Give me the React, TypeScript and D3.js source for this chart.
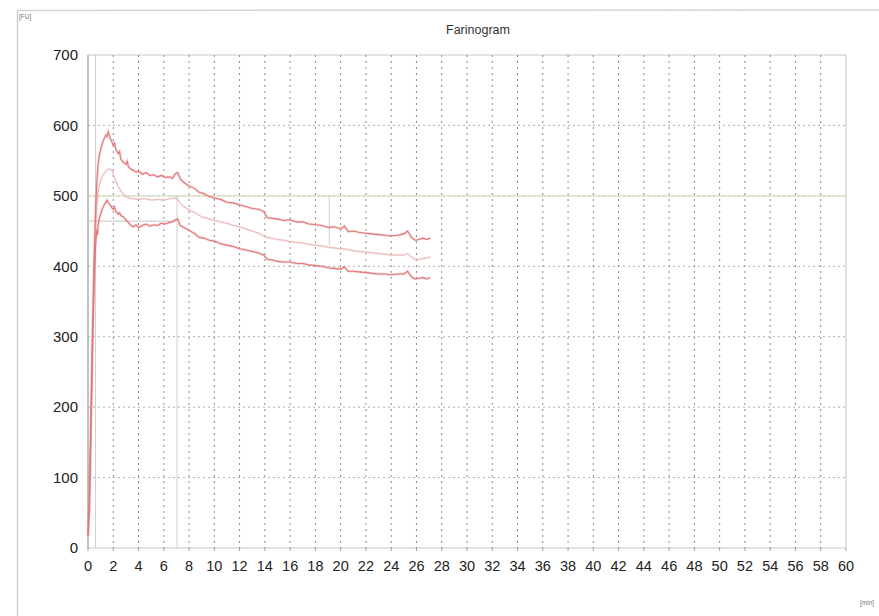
import React, { useEffect, useRef } from 'react'
import * as d3 from 'd3'

// torque readings [minute, FU]
const UPPER: [number, number][] = [
  [0, 18], [0.1, 60], [0.2, 150], [0.3, 250], [0.4, 340], [0.5, 420], [0.6, 480], [0.7, 520],
  [0.8, 545], [0.9, 558], [1.0, 566], [1.1, 572], [1.2, 578], [1.3, 582], [1.4, 586], [1.5, 584],
  [1.6, 591], [1.7, 585], [1.8, 580], [1.9, 576], [2.0, 572], [2.1, 575], [2.2, 566], [2.4, 560],
  [2.5, 563], [2.6, 552], [2.8, 548], [3.0, 545], [3.1, 549], [3.2, 541], [3.4, 538], [3.6, 536],
  [3.8, 534], [4.0, 535], [4.3, 531], [4.6, 533], [4.9, 529], [5.2, 530], [5.5, 527], [5.8, 529],
  [6.1, 526], [6.4, 527], [6.7, 525], [6.9, 531], [7.1, 533], [7.3, 524], [7.6, 519], [8.0, 514],
  [8.4, 511], [8.8, 505], [9.2, 503], [9.6, 499], [10.0, 497], [10.5, 495], [11.0, 491],
  [11.5, 490], [12.0, 487], [12.5, 485], [13.0, 482], [13.5, 481], [13.9, 478], [14.2, 469],
  [14.6, 468], [15.0, 467], [15.5, 465], [16.0, 466], [16.5, 463], [17.0, 463], [17.5, 460],
  [18.0, 459], [18.5, 458], [19.0, 455], [19.5, 456], [20.0, 453], [20.3, 457], [20.6, 449],
  [21.0, 450], [21.5, 448], [22.0, 447], [22.5, 446], [23.0, 445], [23.5, 444], [24.0, 443],
  [24.5, 444], [25.0, 446], [25.3, 450], [25.6, 441], [25.9, 437], [26.2, 438], [26.5, 440],
  [26.8, 438], [27.1, 440],
]

const MIDDLE: [number, number][] = [
  [0, 18], [0.1, 58], [0.2, 145], [0.3, 240], [0.4, 330], [0.5, 405], [0.6, 455], [0.7, 485],
  [0.8, 505], [0.9, 515], [1.0, 522], [1.2, 530], [1.4, 535], [1.6, 538], [1.8, 538], [1.9, 536],
  [2.0, 530], [2.2, 521], [2.4, 513], [2.6, 507], [2.8, 502], [3.0, 499], [3.3, 497], [3.6, 496],
  [4.0, 495], [4.5, 496], [5.0, 494], [5.5, 495], [6.0, 494], [6.5, 496], [7.0, 497], [7.2, 492],
  [7.5, 486], [8.0, 480], [8.5, 476], [9.0, 470], [9.5, 468], [10.0, 465], [10.5, 463],
  [11.0, 461], [11.5, 458], [12.0, 456], [12.5, 453], [13.0, 450], [13.5, 447], [14.0, 442],
  [14.5, 440], [15.0, 438], [15.5, 437], [16.0, 435], [16.5, 434], [17.0, 433], [17.5, 431],
  [18.0, 430], [18.5, 429], [19.0, 427], [19.5, 426], [20.0, 425], [20.5, 424], [21.0, 422],
  [21.5, 421], [22.0, 420], [22.5, 419], [23.0, 418], [23.5, 417], [24.0, 416], [24.5, 416],
  [25.0, 416], [25.3, 418], [25.6, 413], [25.9, 410], [26.2, 410], [26.5, 411], [26.8, 412],
  [27.1, 413],
]

const LOWER: [number, number][] = [
  [0, 18], [0.1, 55], [0.2, 140], [0.3, 230], [0.4, 320], [0.5, 390], [0.6, 430], [0.7, 452],
  [0.75, 445], [0.8, 458], [0.9, 468], [1.0, 474], [1.1, 480], [1.2, 484], [1.3, 488], [1.4, 490],
  [1.5, 494], [1.6, 491], [1.7, 488], [1.8, 486], [1.9, 483], [2.0, 481], [2.1, 484], [2.2, 478],
  [2.4, 474], [2.5, 476], [2.6, 472], [2.8, 470], [3.0, 466], [3.2, 462], [3.4, 458], [3.6, 456],
  [3.8, 459], [4.0, 455], [4.3, 458], [4.6, 460], [4.9, 457], [5.2, 459], [5.5, 458], [5.8, 461],
  [6.1, 460], [6.4, 462], [6.7, 463], [6.9, 466], [7.1, 467], [7.3, 458], [7.6, 455], [8.0, 451],
  [8.4, 447], [8.8, 441], [9.2, 440], [9.6, 437], [10.0, 436], [10.5, 432], [11.0, 430],
  [11.5, 428], [12.0, 425], [12.5, 423], [13.0, 421], [13.5, 419], [13.9, 416], [14.2, 410],
  [14.6, 409], [15.0, 407], [15.5, 406], [16.0, 406], [16.5, 404], [17.0, 404], [17.5, 402],
  [18.0, 401], [18.5, 400], [19.0, 398], [19.5, 397], [20.0, 396], [20.3, 399], [20.6, 393],
  [21.0, 393], [21.5, 392], [22.0, 391], [22.5, 390], [23.0, 389], [23.5, 389], [24.0, 388],
  [24.5, 389], [25.0, 389], [25.3, 393], [25.6, 385], [25.9, 382], [26.2, 383], [26.5, 384],
  [26.8, 382], [27.1, 384],
]

const X_TICKS = d3.range(0, 62, 2)
const Y_TICKS = [0, 100, 200, 300, 400, 500, 600, 700]

// evaluation marker lines (consistency line, peak time, etc.)
const H_MARKS = [
  { v: 500, from: 0, to: 60, color: '#d6dcc0' },
  { v: 464, from: 0, to: 7.05, color: '#d2d2d2' },
]
const V_MARKS = [
  { t: 0.6, from: 0, to: 700 },
  { t: 7.05, from: 0, to: 500 },
  { t: 19.1, from: 430, to: 501 },
]

const W = 879
const H = 616

export default function App() {
  const svgRef = useRef<SVGSVGElement>(null)

  useEffect(() => {
    if (!svgRef.current) return
    const svg = d3.select(svgRef.current)
    svg.selectAll('*').remove()

    const left = 88
    const right = 846
    const top = 55
    const bottom = 548
    const font = 'Liberation Sans, Arial, sans-serif'

    const x = d3.scaleLinear().domain([0, 60]).range([left, right])
    const y = d3.scaleLinear().domain([0, 700]).range([bottom, top])

    svg.append('rect').attr('width', W).attr('height', H).attr('fill', '#fff')

    // scanned page edge
    svg.append('line').attr('x1', 17).attr('x2', W).attr('y1', 10.5).attr('y2', 10)
      .attr('stroke', '#d4d4d4').attr('stroke-width', 1.5)
    svg.append('line').attr('x1', 17.5).attr('x2', 17.5).attr('y1', 10).attr('y2', H)
      .attr('stroke', '#cfcfcf').attr('stroke-width', 1.5)

    svg.append('text').attr('x', 19).attr('y', 19).attr('font-size', 6.5)
      .attr('font-family', font).attr('fill', '#777').text('[FU]')
    svg.append('text').attr('x', 860).attr('y', 605).attr('font-size', 6.5)
      .attr('font-family', font).attr('fill', '#777').text('[min]')

    svg.append('text').attr('x', (left + right) / 2 + 11).attr('y', 34)
      .attr('text-anchor', 'middle').attr('font-size', 12.5)
      .attr('font-family', font).attr('fill', '#333').text('Farinogram')

    // plot frame
    svg.append('rect').attr('x', left).attr('y', top).attr('width', right - left).attr('height', bottom - top)
      .attr('fill', 'none').attr('stroke', '#c8c8c8').attr('stroke-width', 1)

    const g = svg.append('g')

    g.selectAll('line.hgrid').data(Y_TICKS.filter((d) => d > 0 && d < 700)).enter()
      .append('line').attr('class', 'hgrid')
      .attr('x1', left).attr('x2', right).attr('y1', (d) => y(d)).attr('y2', (d) => y(d))
      .attr('stroke', '#b0b0b0').attr('stroke-width', 1).attr('stroke-dasharray', '2,3')

    g.selectAll('line.vgrid').data(X_TICKS.filter((d) => d > 0 && d < 60)).enter()
      .append('line').attr('class', 'vgrid')
      .attr('x1', (d) => x(d)).attr('x2', (d) => x(d)).attr('y1', top).attr('y2', bottom)
      .attr('stroke', '#8a8a8a').attr('stroke-width', 1).attr('stroke-dasharray', '2,4')

    g.selectAll('line.hmark').data(H_MARKS).enter().append('line')
      .attr('x1', (d) => x(d.from)).attr('x2', (d) => x(d.to))
      .attr('y1', (d) => y(d.v)).attr('y2', (d) => y(d.v))
      .attr('stroke', (d) => d.color).attr('stroke-width', 1.2)

    g.selectAll('line.vmark').data(V_MARKS).enter().append('line')
      .attr('x1', (d) => x(d.t)).attr('x2', (d) => x(d.t))
      .attr('y1', (d) => y(d.from)).attr('y2', (d) => y(d.to))
      .attr('stroke', '#cfcfcf').attr('stroke-width', 1)

    // left axis line
    g.append('line').attr('x1', left).attr('x2', left).attr('y1', top).attr('y2', bottom)
      .attr('stroke', '#a0a0a0').attr('stroke-width', 1)

    // x tick marks
    g.selectAll('line.xt').data(X_TICKS).enter().append('line')
      .attr('x1', (d) => x(d)).attr('x2', (d) => x(d)).attr('y1', bottom).attr('y2', bottom + 3)
      .attr('stroke', '#a0a0a0')

    const line = d3.line<[number, number]>().x((d) => x(d[0])).y((d) => y(d[1]))

    const series = [
      { data: MIDDLE, color: '#eab8b8', width: 1 },
      { data: UPPER, color: '#e07878', width: 1.1 },
      { data: LOWER, color: '#e07878', width: 1.1 },
    ]
    series.forEach((s) => {
      g.append('path').datum(s.data).attr('d', line).attr('fill', 'none')
        .attr('stroke', s.color).attr('stroke-opacity', 0.3).attr('stroke-width', s.width + 1.4)
      g.append('path').datum(s.data).attr('d', line).attr('fill', 'none')
        .attr('stroke', s.color).attr('stroke-width', s.width)
    })

    g.selectAll('text.yl').data(Y_TICKS).enter().append('text')
      .attr('x', left - 10).attr('y', (d) => y(d)).attr('dy', '0.35em')
      .attr('text-anchor', 'end').attr('font-size', 15).attr('font-family', font).attr('fill', '#222')
      .text((d) => d)

    g.selectAll('text.xl').data(X_TICKS).enter().append('text')
      .attr('x', (d) => x(d)).attr('y', bottom + 18).attr('dy', '0.35em')
      .attr('text-anchor', 'middle').attr('font-size', 14.5).attr('font-family', font).attr('fill', '#222')
      .text((d) => d)
  }, [])

  return (
    <svg
      ref={svgRef}
      width={W}
      height={H}
      style={{ position: 'absolute', left: 0, top: 0, display: 'block' }}
    />
  )
}
